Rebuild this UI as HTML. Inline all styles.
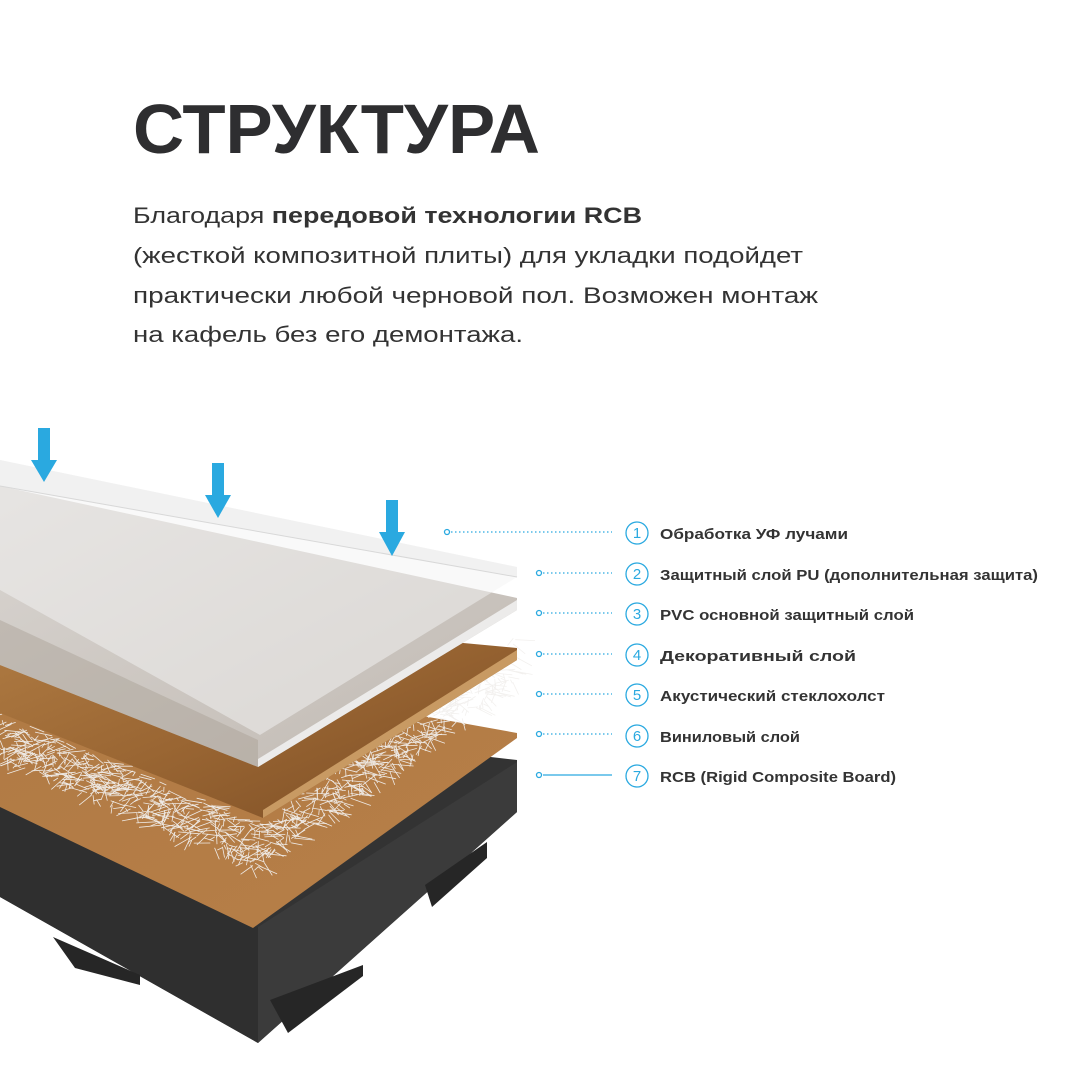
<!DOCTYPE html>
<html><head><meta charset="utf-8"><style>
html,body{margin:0;padding:0;background:#fff;}
svg{display:block;}
</style></head><body>
<svg id="s" width="1080" height="1080" viewBox="0 0 1080 1080" xmlns="http://www.w3.org/2000/svg">
<defs>
<linearGradient id="wood" x1="0" y1="0" x2="1" y2="1">
<stop offset="0" stop-color="#b27e45"/><stop offset="0.5" stop-color="#9a6633"/><stop offset="1" stop-color="#7a4c24"/></linearGradient>
<linearGradient id="orng" x1="0" y1="0" x2="1" y2="1">
<stop offset="0" stop-color="#b07a44"/><stop offset="1" stop-color="#b77f48"/></linearGradient>
<linearGradient id="pvc" x1="0" y1="0" x2="1" y2="1">
<stop offset="0" stop-color="#d9d5d1"/><stop offset="1" stop-color="#c0b9b2"/></linearGradient>
</defs>
<rect width="1080" height="1080" fill="#fff"/>
<text x="133" y="153" font-family="Liberation Sans, sans-serif" font-weight="bold" font-size="70" fill="#2e2e30" textLength="407" lengthAdjust="spacingAndGlyphs">СТРУКТУРА</text>
<g font-family="Liberation Sans, sans-serif" font-size="22" fill="#333">
<text x="133" y="223" textLength="509" lengthAdjust="spacingAndGlyphs">Благодаря <tspan font-weight="bold">передовой технологии RCB</tspan></text>
<text x="133" y="263" textLength="670" lengthAdjust="spacingAndGlyphs">(жесткой композитной плиты) для укладки подойдет</text>
<text x="133" y="303" textLength="685" lengthAdjust="spacingAndGlyphs">практически любой черновой пол. Возможен монтаж</text>
<text x="133" y="342" textLength="390" lengthAdjust="spacingAndGlyphs">на кафель без его демонтажа.</text>
</g>

<!-- black RCB -->
<polygon points="0,700 517,760 517,812 258,1043 0,897" fill="#333"/>
<polygon points="258,927 517,762 517,812 258,1043" fill="#3b3b3b"/>
<polygon points="0,807 258,927 258,1043 0,897" fill="#2f2f2f"/>
<polygon points="425,885 487,842 487,858 432,907" fill="#262626"/>
<polygon points="270,1000 363,965 363,976 288,1033" fill="#262626"/>
<polygon points="53,937 140,975 140,985 75,968" fill="#262626"/>
<!-- orange vinyl -->
<polygon points="0,640 517,733 517,738 253,928 0,807" fill="url(#orng)"/>
<!-- fiberglass -->
<g id="fib" stroke="#f2f0ee" stroke-width="0.8" opacity="0.95"></g>
<!-- wood -->
<polygon points="0,600 517,648 517,660 263,818 0,713" fill="url(#wood)"/>
<polygon points="263,810 517,650 517,660 263,818" fill="#c89a63"/>
<!-- PVC -->
<polygon points="0,486 517,598 517,610 258,767 0,665" fill="url(#pvc)"/>
<polygon points="0,620 258,740 258,767 0,665" fill="#a99f94" opacity="0.45"/>
<polygon points="258,767 517,610 517,600 258,759" fill="#ecebea"/>
<!-- top clear sheet -->
<polygon points="0,460 517,567 517,577 260,735 0,590" fill="#f3f3f3" opacity="0.5"/>
<polygon points="0,460 517,567 517,577 0,486" fill="#f1f1f1"/>
<line x1="0" y1="486" x2="517" y2="577" stroke="#d8d8d8" stroke-width="1"/>

<!-- arrows -->
<g fill="#2aa9e0">
<rect x="38" y="428" width="12" height="34"/><polygon points="31,460 57,460 44,482"/>
<rect x="212" y="463" width="12" height="34"/><polygon points="205,495 231,495 218,518"/>
<rect x="386" y="500" width="12" height="34"/><polygon points="379,532 405,532 392,556"/>
</g>

<!-- labels -->
<g stroke="#2aa9e0" fill="none" stroke-width="1.3">
<circle cx="447" cy="532" r="2.5"/><line x1="451" y1="532" x2="612" y2="532" stroke-dasharray="1.5 2.5"/>
<circle cx="539" cy="573" r="2.5"/><line x1="543" y1="573" x2="612" y2="573" stroke-dasharray="1.5 2.5"/>
<circle cx="539" cy="613" r="2.5"/><line x1="543" y1="613" x2="612" y2="613" stroke-dasharray="1.5 2.5"/>
<circle cx="539" cy="654" r="2.5"/><line x1="543" y1="654" x2="612" y2="654" stroke-dasharray="1.5 2.5"/>
<circle cx="539" cy="694" r="2.5"/><line x1="543" y1="694" x2="612" y2="694" stroke-dasharray="1.5 2.5"/>
<circle cx="539" cy="734" r="2.5"/><line x1="543" y1="734" x2="612" y2="734" stroke-dasharray="1.5 2.5"/>
<circle cx="539" cy="775" r="2.5"/><line x1="543" y1="775" x2="612" y2="775"/>
<circle cx="637" cy="533" r="11"/><circle cx="637" cy="574" r="11"/><circle cx="637" cy="614" r="11"/>
<circle cx="637" cy="655" r="11"/><circle cx="637" cy="695" r="11"/><circle cx="637" cy="736" r="11"/><circle cx="637" cy="776" r="11"/>
</g>
<g font-family="Liberation Sans, sans-serif" font-size="15" fill="#2aa9e0" text-anchor="middle">
<text x="637" y="538">1</text><text x="637" y="579">2</text><text x="637" y="619">3</text><text x="637" y="660">4</text><text x="637" y="700">5</text><text x="637" y="741">6</text><text x="637" y="781">7</text>
</g>
<g font-family="Liberation Sans, sans-serif" font-size="15" font-weight="bold" fill="#333">
<text x="660" y="539" textLength="188" lengthAdjust="spacingAndGlyphs">Обработка УФ лучами</text>
<text x="660" y="580" textLength="378" lengthAdjust="spacingAndGlyphs">Защитный слой PU (дополнительная защита)</text>
<text x="660" y="620" textLength="254" lengthAdjust="spacingAndGlyphs">PVC основной защитный слой</text>
<text x="660" y="661" textLength="196" lengthAdjust="spacingAndGlyphs">Декоративный слой</text>
<text x="660" y="701" textLength="225" lengthAdjust="spacingAndGlyphs">Акустический стеклохолст</text>
<text x="660" y="742" textLength="140" lengthAdjust="spacingAndGlyphs">Виниловый слой</text>
<text x="660" y="782" textLength="236" lengthAdjust="spacingAndGlyphs">RCB (Rigid Composite Board)</text>
</g>
</svg>
<script>
(function(){
var g=document.getElementById('fib'),s=12345;
function r(){s=(s*16807)%2147483647;return s/2147483647;}
var out='';
for(var i=0;i<1000;i++){
 var u=r();var x,y;
 if(u<0.5){var t=r();x=255+t*262;y=870-t*190-(r()*45);}
 else{var t=r();x=t*255;y=758+t*110-(r()*45);}
 var a=r()*Math.PI,l=6+r()*18;
 out+='<line x1="'+x.toFixed(1)+'" y1="'+y.toFixed(1)+'" x2="'+(x+Math.cos(a)*l).toFixed(1)+'" y2="'+(y+Math.sin(a)*l*0.6).toFixed(1)+'"/>';
}
g.innerHTML=out;
})();
</script>
</body></html>
